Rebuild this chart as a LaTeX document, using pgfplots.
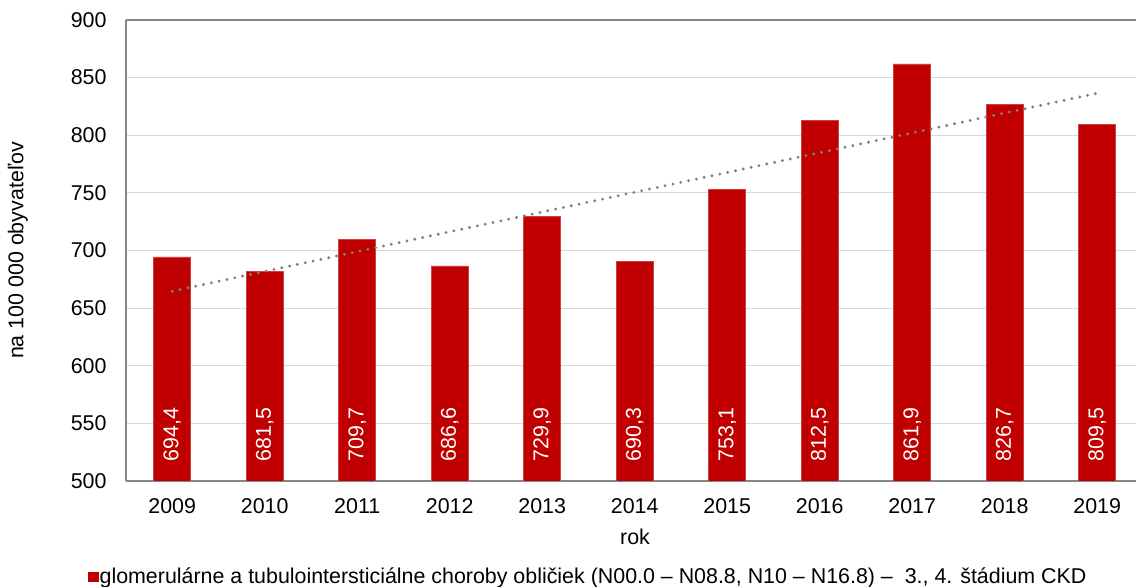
\documentclass[border=0pt]{standalone}
\usepackage{pgfplots}
\pgfplotsset{compat=1.18}
\usepackage{pgfplotstable}
\usepackage{fontspec}
\setmainfont{Liberation Sans}
\definecolor{barred}{HTML}{C00000}
\definecolor{gridgray}{HTML}{D9D9D9}
\definecolor{axisgray}{HTML}{868686}
\definecolor{trendgray}{HTML}{7F7F7F}
\pgfplotstableread{
x y ly lab
0 694.4 516.5 {694,4}
1 681.5 516.5 {681,5}
2 709.7 516.5 {709,7}
3 686.6 516.5 {686,6}
4 729.9 516.5 {729,9}
5 690.3 516.5 {690,3}
6 753.1 516.5 {753,1}
7 812.5 516.5 {812,5}
8 861.9 516.5 {861,9}
9 826.7 516.5 {826,7}
10 809.5 516.5 {809,5}
}\datatable
\newcommand{\chartfont}{\fontsize{10.7}{12.8}\selectfont}
\begin{document}
\chartfont
\begin{tikzpicture}
\begin{axis}[
  scale only axis, width=505pt, height=230.5pt,
  at={(0,0)}, anchor=south west,
  xmin=-0.5, xmax=10.42, ymin=500, ymax=900,
  ytick={500,550,...,900},
  xtick={0,...,10},
  xticklabels={2009,2010,2011,2012,2013,2014,2015,2016,2017,2018,2019},
  /pgf/number format/assume math mode=true,
  axis x line*=bottom, axis y line*=left,
  axis line style={axisgray, line width=0.8pt},
  major tick length=0pt,
  ymajorgrids, grid style={gridgray, line width=0.6pt},
  extra y ticks={900}, extra y tick labels={},
  extra y tick style={grid style={axisgray, line width=0.8pt}},
  tick label style={font=\chartfont, text=black},
  yticklabel style={xshift=-6pt},
  xticklabel style={yshift=-5pt},
  xlabel={rok}, ylabel={na 100 000 obyvateľov},
  label style={font=\chartfont},
  xlabel style={at={(axis description cs:0.504,0)}, anchor=center, yshift=-28pt},
  ylabel style={at={(axis description cs:-0.107,0.5)}, anchor=center},
  legend style={at={(axis description cs:-0.0376,0)}, anchor=west, yshift=-48pt,
    draw=none, fill=none, inner sep=0pt, font=\chartfont,
    nodes={inner sep=0.6pt}},
  legend cell align=left,
]
\addplot[ybar, bar width=18.5pt, fill=barred, draw=barred!75!white, line width=0.4pt,
  legend image code/.code={\fill[barred] (0pt,-2.3pt) rectangle (4.6pt,2.3pt);}]
  table[x=x, y=y] {\datatable};
\addlegendentry{glomerulárne a tubulointersticiálne choroby obličiek (N00.0 – N08.8, N10 – N16.8) –\ \ 3., 4. štádium CKD}
\addplot[draw=none, mark=none, forget plot, nodes near coords, point meta=explicit symbolic,
  every node near coord/.style={rotate=90, anchor=west, text=white, inner sep=0pt, font=\chartfont}]
  table[x=x, y=ly, meta=lab] {\datatable};
\addplot[forget plot, trendgray, line width=1.6pt, line cap=round, dash pattern=on 0pt off 4pt]
  coordinates {(0,664.7) (10,836.4)};
\end{axis}
\pgfresetboundingbox
\useasboundingbox (-63pt,-53pt) rectangle (505pt,240.5pt);
\end{tikzpicture}
\end{document}
